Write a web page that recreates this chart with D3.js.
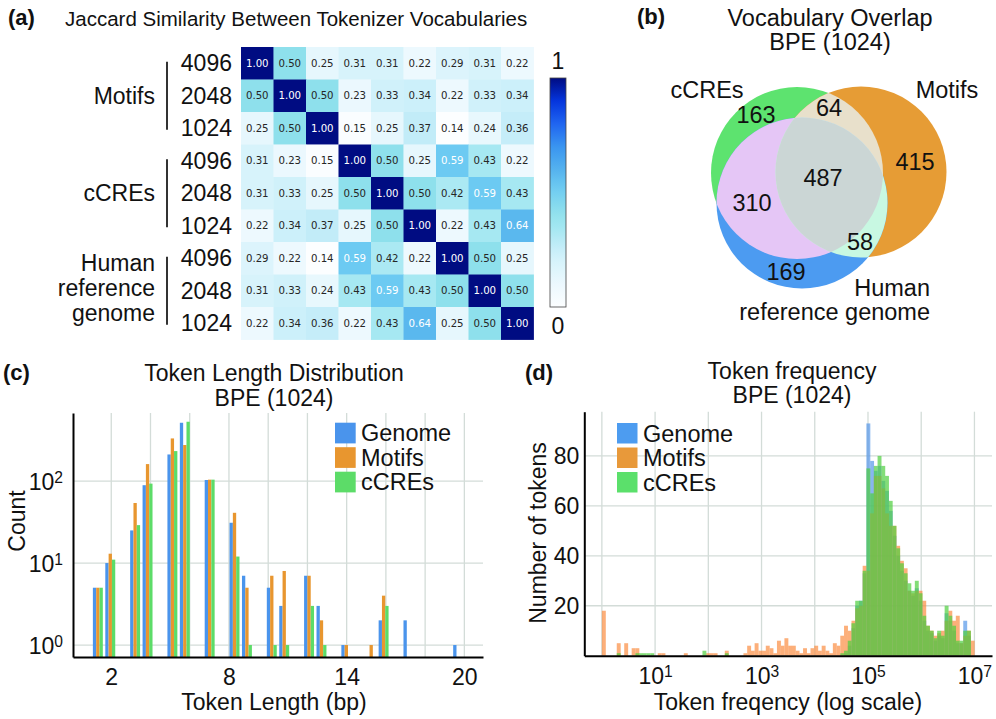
<!DOCTYPE html>
<html><head><meta charset="utf-8">
<script src="https://cdn.jsdelivr.net/npm/d3@7"></script>
<style>
body{margin:0;background:#fff}
svg{display:block}
</style>
</head><body>
<svg id="chart" width="996" height="719"></svg>
<script>
// ---------------- DATA ----------------
// (a) Jaccard similarity heatmap
const heatRowLabels = ["4096","2048","1024","4096","2048","1024","4096","2048","1024"];
const heatGroups = [["Motifs"],["cCREs"],["Human","reference","genome"]];
const jaccard = [
 [1.00,0.50,0.25,0.31,0.31,0.22,0.29,0.31,0.22],
 [0.50,1.00,0.50,0.23,0.33,0.34,0.22,0.33,0.34],
 [0.25,0.50,1.00,0.15,0.25,0.37,0.14,0.24,0.36],
 [0.31,0.23,0.15,1.00,0.50,0.25,0.59,0.43,0.22],
 [0.31,0.33,0.25,0.50,1.00,0.50,0.42,0.59,0.43],
 [0.22,0.34,0.37,0.25,0.50,1.00,0.22,0.43,0.64],
 [0.29,0.22,0.14,0.59,0.42,0.22,1.00,0.50,0.25],
 [0.31,0.33,0.24,0.43,0.59,0.43,0.50,1.00,0.50],
 [0.22,0.34,0.36,0.22,0.43,0.64,0.25,0.50,1.00]
];
const colorbarLabels = ["0","1"];

// (b) Venn regions
const vennRegions = ["cCREs only","cCREs∩Motifs","Motifs only","all","cCREs∩Human","Motifs∩Human","Human only"];
const vennCounts  = [163, 64, 415, 487, 310, 58, 169];

// (c) token length distribution
const tokenLengths = [1,2,3,4,5,6,7,8,9,10,11,12,13,14,15,16,17,18,19,20];
const lenGenome = [5,10,25,89,211,514,103,31,7,5,3,7,3,1,0,2,2,0,0,1];
const lenMotifs = [5,13,54,161,331,275,104,41,5,7,8,7,2,1,1,4,0,0,0,0];
const lenCCREs  = [5,11,29,93,232,529,104,12,1,1,1,3,1,0,0,3,0,0,0,0];
const lenXTicks = [2,8,14,20];
const lenYTicks = [1,10,100];

// (d) token frequency histogram (100 log-spaced bins, 10^0 .. 10^7)
const freqGenome = [
 0,0,0,0,0,0,0,0,0,0, 0,0,0,0,0,0,0,0,0,0,
 0,0,0,0,0,0,0,0,0,0, 0,0,0,0,0,0,0,0,0,0,
 0,0,0,0,0,0,0,0,0,0, 0,0,0,0,0,0,0,0,0,0,
 0,0,0,0,0,1,4,11,20,22, 33,93,78,74,76,70,66,58,48,40,
 34,30,26,24,27,22,14,10,9,6, 8,7,17,14,10,5,5,14,8,0];
const freqMotifs = [
 18,0,0,0,5,0,5,0,3,3, 0,0,0,0,0,1,1,0,0,0,
 0,0,1,0,0,0,0,0,1,1, 1,0,0,2,0,0,0,0,1,4,
 2,5,2,2,4,3,1,6,4,7, 4,4,2,1,3,1,3,4,2,4,
 2,1,5,4,8,12,10,14,19,20, 36,34,57,72,72,67,57,52,52,44,
 38,35,26,25,26,26,22,12,10,8, 9,10,14,18,14,16,5,8,10,6];
const freqCCREs = [
 0,0,0,0,1,0,0,0,0,1, 1,1,1,1,0,0,0,0,0,0,
 0,0,0,0,0,0,0,2,0,0, 0,0,0,1,0,0,0,0,0,0,
 0,0,0,0,0,0,0,0,0,0, 0,0,0,0,0,0,0,0,0,0,
 0,0,0,0,1,2,6,13,22,22, 34,75,65,76,80,76,72,62,52,43,
 37,33,29,26,30,25,16,12,10,7, 10,8,20,16,12,6,6,10,10,0];
const freqXTicks = [1e1,1e3,1e5,1e7];
const freqYTicks = [20,40,60,80];

const seriesNames = ["Genome","Motifs","cCREs"];

// ---------------- STYLE ----------------
const FONT = "'Liberation Sans', Arial, Helvetica, sans-serif";
const TXT = "#111";
const GRID = "#d3dcd8";
const barColors = ["#4a94ec","#e8962f","#5cdc68"];
const histColors = ["#4a90e8","#fb8a3c","#50d040"];
const histOpacity = [0.65,0.68,0.7];

const svg = d3.select("#chart");
svg.append("rect").attr("width",996).attr("height",719).attr("fill","#fff");

function txt(x,y,s,opt={}){
  const t = svg.append("text").attr("x",x).attr("y",y).attr("dy","0.35em")
    .attr("font-family",opt.family||FONT).attr("font-size",opt.size||23)
    .attr("fill",opt.fill||TXT).attr("text-anchor",opt.anchor||"start")
    .text(s);
  if(opt.bold) t.attr("font-weight","bold");
  if(opt.rotate) t.attr("transform",`rotate(${opt.rotate},${x},${y})`);
  return t;
}
function supLabel(sel, exp){
  sel.text("10").append("tspan").attr("font-size","0.68em").attr("dy","-0.42em").text(exp);
}

// ================= (a) HEATMAP =================
txt(8,17,"(a)",{bold:true,size:22});
txt(65,19,"Jaccard Similarity Between Tokenizer Vocabularies",{size:20.5});

const heatStops = [[0,"#fcfeff"],[0.09,"#eef9fe"],[0.2,"#d6f3fb"],[0.267,"#c2ecf8"],[0.337,"#a6e8f2"],
  [0.419,"#8ee0ec"],[0.523,"#6ccaf2"],[0.581,"#5ab8ee"],[0.7,"#3a95f0"],[0.8,"#2065f0"],[0.9,"#0535dd"],[1,"#000c82"]];
const tColor = d3.scaleLinear().domain(heatStops.map(s=>s[0])).range(heatStops.map(s=>s[1]))
  .interpolate(d3.interpolateRgb).clamp(true);
const vmin = d3.min(jaccard.flat()), vmax = d3.max(jaccard.flat());
const heatColor = v => tColor((v-vmin)/(vmax-vmin));

const xh = d3.scaleBand().domain(d3.range(9)).range([241,533.5]);
const yh = d3.scaleBand().domain(d3.range(9)).range([47,339.5]);
const bw = xh.bandwidth();
const gh = svg.append("g");
jaccard.forEach((row,i)=>row.forEach((v,j)=>{
  gh.append("rect").attr("x",xh(j)).attr("y",yh(i)).attr("width",bw+0.4).attr("height",bw+0.4)
    .attr("fill",heatColor(v));
}));
jaccard.forEach((row,i)=>row.forEach((v,j)=>{
  gh.append("text").attr("x",xh(j)+bw/2).attr("y",yh(i)+bw/2).attr("dy","0.36em")
    .attr("text-anchor","middle").attr("font-family","'DejaVu Sans', sans-serif").attr("font-size",10.2)
    .attr("fill", v>=0.55 ? "#ffffff" : "#262626").text(v.toFixed(2));
}));
heatRowLabels.forEach((l,i)=> txt(232, yh(i)+bw/2, l, {anchor:"end",size:23}));
heatGroups.forEach((lines,g)=>{
  const cy = yh(g*3)+1.5*bw;
  const n = lines.length;
  lines.forEach((l,k)=> txt(155, cy + (k-(n-1)/2)*25 - (n>1?3:0), l, {anchor:"end",size:23}));
  svg.append("line").attr("x1",167).attr("x2",167).attr("y1",cy-34).attr("y2",cy+34)
    .attr("stroke","#333").attr("stroke-width",2);
});
// colorbar
const defs = svg.append("defs");
const grad = defs.append("linearGradient").attr("id","cbar").attr("x1",0).attr("y1",1).attr("x2",0).attr("y2",0);
d3.range(0,1.0001,0.05).forEach(t=> grad.append("stop").attr("offset",t).attr("stop-color",tColor(t)));
const cbY = d3.scaleLinear().domain([0,1]).range([307,78]);
svg.append("rect").attr("x",550).attr("y",cbY(1)).attr("width",16).attr("height",cbY(0)-cbY(1))
  .attr("fill","url(#cbar)").attr("stroke","#444").attr("stroke-width",0.8);
txt(558, cbY(1)-17, colorbarLabels[1], {anchor:"middle",size:23});
txt(558, cbY(0)+19, colorbarLabels[0], {anchor:"middle",size:23});

// ================= (b) VENN =================
txt(637,16,"(b)",{bold:true,size:22});
txt(830,18,"Vocabulary Overlap",{anchor:"middle",size:23.5});
txt(830,42,"BPE (1024)",{anchor:"middle",size:23.5});
const vc = {x:797,y:173,r:86}, vm = {x:861,y:172,r:85.5}, vhc = {x:802,y:203,r:85.5};
[["vc",vc],["vm",vm],["vh",vhc]].forEach(([id,c])=>{
  defs.append("clipPath").attr("id",id).append("circle").attr("cx",c.x).attr("cy",c.y).attr("r",c.r);
});
const gv = svg.append("g");
function circ(g,c,fill){ return g.append("circle").attr("cx",c.x).attr("cy",c.y).attr("r",c.r).attr("fill",fill); }
circ(gv,vc,"#5de36f"); circ(gv,vm,"#e69c35"); circ(gv,vhc,"#4c9bf1");
circ(gv,vc,"#e8e0cb").attr("clip-path","url(#vm)");
circ(gv,vc,"#e5c6f6").attr("clip-path","url(#vh)");
circ(gv,vm,"#c8f8e2").attr("clip-path","url(#vh)");
circ(gv.append("g").attr("clip-path","url(#vh)"),vc,"#cbd6d5").attr("clip-path","url(#vm)");
const vennLabelPos = [[756,115],[829,108],[915,162],[823,178],[752,203],[860,242],[786,272]];
vennCounts.forEach((n,i)=> txt(vennLabelPos[i][0],vennLabelPos[i][1],String(n),{anchor:"middle",size:23.5}));
txt(707,90,"cCREs",{anchor:"middle",size:23.5});
txt(947,90,"Motifs",{anchor:"middle",size:23.5});
txt(930,288,"Human",{anchor:"end",size:23.5});
txt(930,312,"reference genome",{anchor:"end",size:23.5});

// ================= (c) TOKEN LENGTH =================
txt(3,372,"(c)",{bold:true,size:22});
txt(274,373,"Token Length Distribution",{anchor:"middle",size:23});
txt(274,398,"BPE (1024)",{anchor:"middle",size:23});
const xc = d3.scaleLinear().domain([0.05,20.95]).range([73,483]);
const yc = d3.scaleLog().domain([Math.pow(10,-0.146),Math.pow(10,2.83)]).range([657,413]);
const gc = svg.append("g");
[2,4,6,8,10,12,14,16,18,20].forEach(v=> gc.append("line").attr("x1",xc(v)).attr("x2",xc(v))
  .attr("y1",413).attr("y2",657).attr("stroke",GRID).attr("stroke-width",1.3));
lenYTicks.forEach(v=> gc.append("line").attr("x1",73).attr("x2",483).attr("y1",yc(v)).attr("y2",yc(v))
  .attr("stroke",GRID).attr("stroke-width",1.3));
// matplotlib-style shared histogram bins (30 bins over 1..20)
const nBins = 30, lo = 1, hi = 20, bwid = (hi-lo)/nBins;
const binOf = L => Math.min(nBins-1, Math.floor((L-lo)/bwid));
const barW = bwid*0.8/3;
[lenGenome,lenMotifs,lenCCREs].forEach((arr,si)=>{
  arr.forEach((cnt,i)=>{
    if(cnt<=0) return;
    const k = binOf(tokenLengths[i]);
    const x0 = lo + k*bwid + 0.1*bwid + si*barW;
    gc.append("rect").attr("x",xc(x0)).attr("width",xc(x0+barW)-xc(x0))
      .attr("y",yc(cnt)).attr("height",657-yc(cnt)).attr("fill",barColors[si]);
  });
});
const axC = svg.append("g").attr("transform","translate(0,657)")
  .call(d3.axisBottom(xc).tickValues(lenXTicks).tickSize(0).tickSizeOuter(0).tickPadding(12));
const ayC = svg.append("g").attr("transform","translate(73,0)")
  .call(d3.axisLeft(yc).tickValues(lenYTicks).tickSize(0).tickSizeOuter(0).tickPadding(10));
ayC.selectAll(".tick text").each(function(d){ supLabel(d3.select(this), String(Math.round(Math.log10(d)))); });
[axC,ayC].forEach(a=>{ a.attr("font-family",FONT).attr("font-size",23);
  a.select(".domain").attr("stroke","#000").attr("stroke-width",2);
  a.selectAll(".tick text").attr("fill",TXT); });
ayC.selectAll(".tick text").attr("dy","0.35em");
txt(17,521,"Count",{anchor:"middle",size:23,rotate:-90});
txt(274,702,"Token Length (bp)",{anchor:"middle",size:23});
seriesNames.forEach((n,i)=>{
  svg.append("rect").attr("x",335).attr("y",422.7+i*24.5).attr("width",20.7).attr("height",20.7).attr("fill",barColors[i]);
  txt(361,433+i*24.5,n,{size:23.5});
});

// ================= (d) TOKEN FREQUENCY =================
txt(525,372,"(d)",{bold:true,size:22});
txt(792,371,"Token frequency",{anchor:"middle",size:23});
txt(792,395,"BPE (1024)",{anchor:"middle",size:23});
const xd = d3.scaleLog().domain([Math.pow(10,-0.33),Math.pow(10,7.33)]).range([584.3,992]);
const yd = d3.scaleLinear().domain([0,97.7]).range([655.7,411.7]);
const gd = svg.append("g");
[1,10,100,1e3,1e4,1e5,1e6,1e7].forEach(v=> gd.append("line").attr("x1",xd(v)).attr("x2",xd(v))
  .attr("y1",411.7).attr("y2",655.7).attr("stroke",GRID).attr("stroke-width",1.3));
freqYTicks.forEach(v=> gd.append("line").attr("x1",584.3).attr("x2",992).attr("y1",yd(v)).attr("y2",yd(v))
  .attr("stroke",GRID).attr("stroke-width",1.3));
const nFreqBins = freqMotifs.length, logStep = 7/nFreqBins;
[freqGenome,freqMotifs,freqCCREs].forEach((arr,si)=>{
  const g = gd.append("g").attr("opacity",histOpacity[si]);
  arr.forEach((cnt,k)=>{
    if(cnt<=0) return;
    const a = Math.pow(10,k*logStep), b = Math.pow(10,(k+1)*logStep);
    g.append("rect").attr("x",xd(a)).attr("width",xd(b)-xd(a)+0.2)
      .attr("y",yd(cnt)).attr("height",yd(0)-yd(cnt)).attr("fill",histColors[si]);
  });
});
const axD = svg.append("g").attr("transform","translate(0,655.7)")
  .call(d3.axisBottom(xd).tickValues(freqXTicks).tickSize(0).tickSizeOuter(0).tickPadding(12));
axD.selectAll(".tick text").each(function(d){ supLabel(d3.select(this), String(Math.round(Math.log10(d)))); });
const ayD = svg.append("g").attr("transform","translate(584.3,0)")
  .call(d3.axisLeft(yd).tickValues(freqYTicks).tickSize(0).tickSizeOuter(0).tickPadding(5));
[axD,ayD].forEach(a=>{ a.attr("font-family",FONT).attr("font-size",23);
  a.select(".domain").attr("stroke","#000").attr("stroke-width",2);
  a.selectAll(".tick text").attr("fill",TXT); });
txt(538,533,"Number of tokens",{anchor:"middle",size:23,rotate:-90});
txt(788,702,"Token freqency (log scale)",{anchor:"middle",size:23});
const legCols = ["#4d9cf0","#e8993a","#5be06b"];
seriesNames.forEach((n,i)=>{
  svg.append("rect").attr("x",617).attr("y",423+i*24.5).attr("width",20.5).attr("height",20.5).attr("fill",legCols[i]);
  txt(643,433.5+i*24.5,n,{size:23.5});
});
</script>
</body></html>
